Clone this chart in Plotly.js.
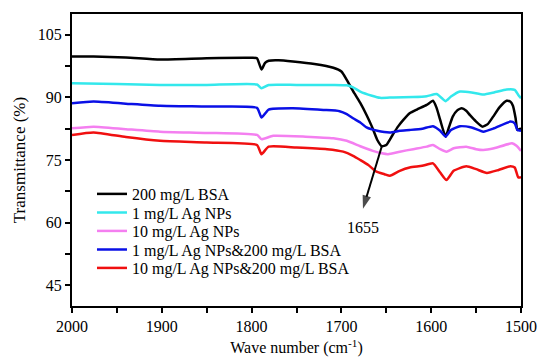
<!DOCTYPE html>
<html>
<head>
<meta charset="utf-8">
<script src="https://cdn.plot.ly/plotly-3.0.1.min.js"></script>
<style>html,body{margin:0;padding:0;background:#fff;}#chart{width:539px;height:358px;}</style>
</head>
<body>
<div id="chart"></div>
<script>
var seriesNames = ["200 mg/L BSA", "1 mg/L Ag NPs", "10 mg/L Ag NPs", "1 mg/L Ag NPs&200 mg/L BSA", "10 mg/L Ag NPs&200 mg/L BSA"];
var seriesColors = ["#000000", "#33e8ec", "#f47ff0", "#0a10e6", "#f01010"];

var bsaX = [2000, 1976, 1940, 1902, 1850, 1800, 1794, 1789, 1785, 1781, 1770, 1754, 1730, 1709, 1700, 1694, 1687, 1679, 1672, 1666, 1660, 1655, 1650, 1643, 1637, 1631, 1624, 1616, 1605, 1598, 1594, 1590, 1584, 1580, 1576, 1571, 1566, 1561, 1557, 1550, 1543, 1537, 1531, 1524, 1516, 1512, 1509, 1506, 1504, 1500];
var bsaY = [99.8, 99.8, 99.6, 99.1, 99.4, 99.5, 99.4, 96.7, 98.3, 98.8, 98.9, 98.6, 98.0, 97.1, 96.2, 94.2, 91.5, 88.7, 85.8, 83.0, 79.8, 78.3, 78.6, 81.0, 83.0, 84.6, 86.2, 87.1, 88.2, 89.2, 87.5, 84.6, 80.6, 83.0, 85.4, 86.9, 87.4, 86.8, 85.8, 84.2, 83.0, 83.6, 85.4, 87.6, 89.2, 89.0, 88.0, 85.0, 82.2, 82.6];

var ag1X = [2000, 1950, 1902, 1850, 1794, 1789, 1781, 1750, 1709, 1694, 1687, 1679, 1666, 1657, 1642, 1620, 1605, 1594, 1588, 1584, 1578, 1568, 1555, 1542, 1530, 1516, 1507, 1503, 1500];
var ag1Y = [93.4, 93.2, 93.0, 93.0, 93.1, 92.2, 93.0, 93.0, 93.0, 92.9, 92.4, 91.4, 90.4, 89.9, 90.0, 90.1, 90.3, 90.8, 89.8, 89.1, 90.2, 91.4, 91.2, 90.7, 91.2, 91.9, 91.8, 90.6, 89.8];

var ag10X = [2000, 1976, 1940, 1902, 1850, 1794, 1789, 1776, 1740, 1709, 1694, 1679, 1665, 1655, 1648, 1635, 1620, 1605, 1598, 1590, 1583, 1575, 1561, 1550, 1542, 1530, 1510, 1505, 1500];
var ag10Y = [82.6, 83.0, 82.4, 81.8, 81.5, 81.0, 80.0, 80.8, 80.6, 80.2, 79.6, 78.3, 77.2, 76.6, 76.4, 77.0, 77.6, 78.2, 78.6, 77.6, 77.0, 77.8, 78.2, 77.6, 77.4, 77.8, 79.0, 78.4, 77.2];

var ag1BsaX = [2000, 1976, 1940, 1902, 1850, 1794, 1789, 1781, 1754, 1720, 1702, 1694, 1687, 1679, 1672, 1660, 1646, 1635, 1624, 1610, 1598, 1590, 1584, 1578, 1568, 1555, 1542, 1530, 1512, 1507, 1504, 1500];
var ag1BsaY = [88.6, 89.0, 88.5, 88.0, 87.8, 87.5, 85.2, 87.1, 87.4, 87.0, 86.7, 86.0, 85.0, 84.0, 82.8, 82.0, 81.6, 82.0, 82.2, 82.5, 83.1, 82.0, 80.6, 82.2, 83.1, 82.8, 81.8, 82.6, 84.2, 83.8, 82.2, 82.0];

var ag10BsaX = [2000, 1976, 1940, 1902, 1850, 1794, 1789, 1781, 1750, 1716, 1698, 1687, 1679, 1670, 1661, 1652, 1646, 1635, 1624, 1610, 1598, 1590, 1583, 1575, 1561, 1550, 1538, 1525, 1512, 1507, 1503, 1500];
var ag10BsaY = [81.0, 81.6, 80.5, 79.6, 79.2, 78.6, 76.4, 78.2, 78.0, 77.6, 77.0, 76.0, 75.0, 73.8, 72.2, 71.6, 71.2, 72.4, 73.2, 73.6, 74.2, 72.0, 70.2, 72.4, 73.5, 72.8, 71.9, 72.6, 73.5, 73.2, 70.8, 70.9];

var peakLabel = "1655";
var peakArrowX = [1655, 1676];
var peakArrowY = [78.3, 63.3];
var peakTextPos = [1676, 58.8];

var xs = [bsaX, ag1X, ag10X, ag1BsaX, ag10BsaX];
var ys = [bsaY, ag1Y, ag10Y, ag1BsaY, ag10BsaY];
var legendIds = ["legend", "legend2", "legend3", "legend4", "legend5"];

var traces = seriesNames.map(function (name, i) {
  return {
    x: xs[i], y: ys[i], name: name, type: "scatter", mode: "lines",
    legend: legendIds[i],
    line: {color: seriesColors[i], width: 2.5, shape: "spline", smoothing: 0.5}
  };
});

traces.push({
  x: peakArrowX, y: peakArrowY, type: "scatter", mode: "lines+markers",
  showlegend: false, hoverinfo: "skip",
  line: {color: "#000", width: 2},
  marker: {symbol: "arrow", angleref: "previous", size: [0, 14], color: "#000", line: {width: 0}}
});

var font = "Liberation Serif, Times New Roman, serif";

var layout = {
  width: 539, height: 358,
  margin: {l: 72, r: 18, t: 14, b: 52},
  paper_bgcolor: "#fff", plot_bgcolor: "#fff",
  font: {family: font, size: 16, color: "#000"},
  showlegend: true,
  xaxis: {
    range: [2000, 1500], autorange: false,
    tickvals: [2000, 1900, 1800, 1700, 1600, 1500],
    ticks: "outside", ticklen: 5, tickwidth: 2, tickcolor: "#000",
    minor: {dtick: 50, ticks: "outside", ticklen: 5, tickwidth: 2, tickcolor: "#000", showgrid: false},
    dtick: 100, tick0: 1500,
    showline: true, linewidth: 2, linecolor: "#000", mirror: true,
    showgrid: false, zeroline: false,
    tickfont: {family: font, size: 16},
    title: {text: "Wave number (cm<sup>-1</sup>)", font: {family: font, size: 16}, standoff: 8}
  },
  yaxis: {
    range: [40, 110], autorange: false,
    tick0: 45, dtick: 15,
    ticks: "outside", ticklen: 5, tickwidth: 2, tickcolor: "#000",
    minor: {dtick: 7.5, tick0: 45, ticks: "outside", ticklen: 5, tickwidth: 2, tickcolor: "#000", showgrid: false},
    showline: true, linewidth: 2, linecolor: "#000", mirror: true,
    showgrid: false, zeroline: false,
    tickfont: {family: font, size: 16},
    title: {text: "Transmittance (%)", font: {family: font, size: 17}, standoff: 8}
  },
  annotations: [
    {
      x: peakTextPos[0], y: peakTextPos[1], xref: "x", yref: "y",
      text: peakLabel, showarrow: false, font: {family: font, size: 16, color: "#000"}
    }
  ]
};

var legendRowsY = [0.3836, 0.3202, 0.2568, 0.1935, 0.1301];
legendIds.forEach(function (id, i) {
  layout[id] = {
    x: 0.0445, y: legendRowsY[i], xanchor: "left", yanchor: "middle",
    font: {family: font, size: 16, color: "#000"},
    bgcolor: "rgba(0,0,0,0)", borderwidth: 0, itemwidth: 30
  };
});

Plotly.newPlot("chart", traces, layout, {staticPlot: true, displayModeBar: false});
</script>
</body>
</html>
